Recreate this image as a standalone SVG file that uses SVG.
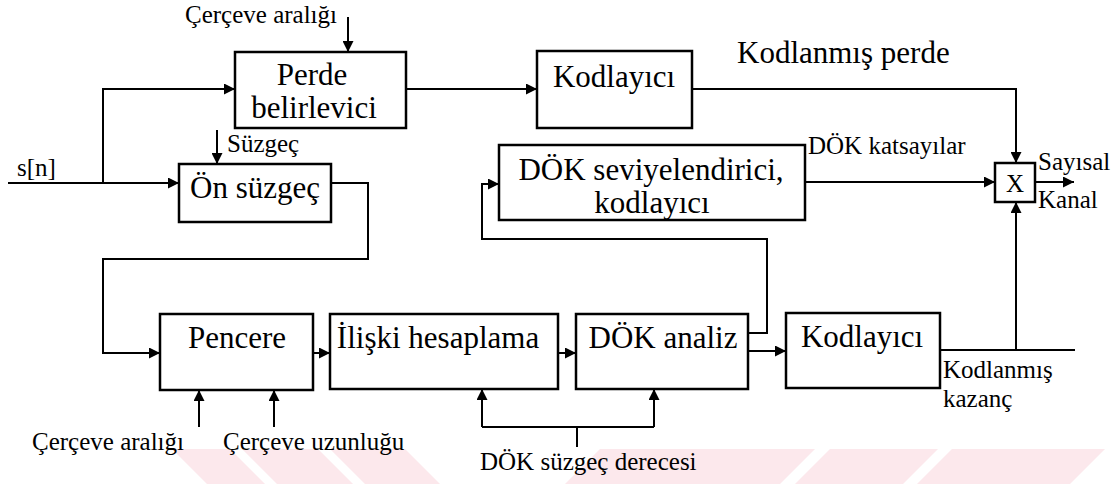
<svg xmlns="http://www.w3.org/2000/svg" width="1116" height="484" viewBox="0 0 1116 484">
  <style>
    .box { fill: none; stroke: #000; stroke-width: 2.5; }
    .wire { fill: none; stroke: #000; stroke-width: 2; }
    .arr { marker-end: url(#head); }
    .big { font-family: 'Liberation Serif', 'Times New Roman', 'DejaVu Serif', serif; font-size: 31px; fill: #000; }
    .lbl { font-family: 'Liberation Serif', 'Times New Roman', 'DejaVu Serif', serif; font-size: 25px; fill: #000; }
    .mid { text-anchor: middle; }
    .wm { fill: #fce8ec; }
  </style>
  <defs>
    <marker id="head" viewBox="0 0 10 10" markerWidth="11" markerHeight="11" refX="10" refY="5" orient="auto" markerUnits="userSpaceOnUse">
      <path d="M0,0 L10,5 L0,10 z" fill="#000"/>
    </marker>
  </defs>
  <rect width="1116" height="484" fill="#fff"/>

  <!-- faint background band along the bottom edge -->
  <g id="band">
    <polygon class="wm" points="172,449 230,449 265,484 207,484"/>
    <polygon class="wm" points="242,449 318,449 353,484 277,484"/>
    <polygon class="wm" points="330,449 405,449 440,484 365,484"/>
    <polygon class="wm" points="600,449 815,449 780,484 565,484"/>
    <polygon class="wm" points="830,449 938,449 903,484 795,484"/>
    <polygon class="wm" points="952,449 1105,449 1070,484 917,484"/>
  </g>

  <!-- connectors -->
  <g id="connectors">
    <!-- input s[n] -->
    <path class="wire arr" d="M8,183 H179"/>
    <path class="wire arr" d="M103,183 V89 H235"/>
    <!-- frame interval into pitch detector -->
    <path class="wire arr" d="M348,17 V52"/>
    <!-- filter into pre-filter -->
    <path class="wire arr" d="M217,130 V164"/>
    <!-- pitch detector to coder -->
    <path class="wire arr" d="M406,89 H537"/>
    <!-- coded pitch to multiplexer -->
    <path class="wire arr" d="M692,89 H1016 V163"/>
    <!-- LPC quantiser to multiplexer -->
    <path class="wire arr" d="M805,182 H995"/>
    <!-- multiplexer output -->
    <path class="wire arr" d="M1035,182 H1074"/>
    <!-- pre-filter to window -->
    <path class="wire arr" d="M331,183 H368 V259 H103 V353 H160"/>
    <!-- window to correlation -->
    <path class="wire arr" d="M313,353 H330"/>
    <!-- correlation to LPC analysis -->
    <path class="wire arr" d="M558,353 H576"/>
    <!-- LPC analysis to gain coder -->
    <path class="wire arr" d="M748,351 H786"/>
    <!-- LPC analysis to quantiser -->
    <path class="wire arr" d="M748,333 H767 V239 H482 V184 H499"/>
    <!-- coded gain -->
    <path class="wire" d="M940,350 H1075"/>
    <path class="wire arr" d="M1016,350 V202"/>
    <!-- window parameters -->
    <path class="wire arr" d="M199,427 V390"/>
    <path class="wire arr" d="M274,427 V390"/>
    <!-- LPC filter order -->
    <path class="wire arr" d="M482,427 V389"/>
    <path class="wire arr" d="M654,427 V389"/>
    <path class="wire" d="M482,427 H654"/>
    <path class="wire" d="M577,427 V447"/>
  </g>

  <!-- blocks -->
  <g id="perde-belirleyici">
    <rect class="box" x="235" y="52" width="171" height="76"/>
    <text class="big mid" x="312" y="85">Perde</text>
    <text class="big mid" x="314" y="118">belirlevici</text>
  </g>
  <g id="kodlayici-perde">
    <rect class="box" x="537" y="51" width="155" height="77"/>
    <text class="big mid" x="614" y="87">Kodlayıcı</text>
  </g>
  <g id="dok-seviyelendirici">
    <rect class="box" x="499" y="145" width="306" height="75"/>
    <text class="big mid" x="651" y="180">DÖK seviyelendirici,</text>
    <text class="big mid" x="652" y="213">kodlayıcı</text>
  </g>
  <g id="on-suzgec">
    <rect class="box" x="179" y="164" width="152" height="58"/>
    <text class="big mid" x="255" y="198">Ön süzgeç</text>
  </g>
  <g id="carpim">
    <rect class="box" x="995" y="163" width="40" height="39"/>
    <text class="lbl mid" x="1015" y="192">X</text>
  </g>
  <g id="pencere">
    <rect class="box" x="160" y="314" width="153" height="76"/>
    <text class="big mid" x="237" y="348">Pencere</text>
  </g>
  <g id="iliski-hesaplama">
    <rect class="box" x="330" y="314" width="228" height="75"/>
    <text class="big mid" x="438" y="348">İlişki hesaplama</text>
  </g>
  <g id="dok-analiz">
    <rect class="box" x="576" y="314" width="172" height="75"/>
    <text class="big mid" x="663" y="348">DÖK analiz</text>
  </g>
  <g id="kodlayici-kazanc">
    <rect class="box" x="786" y="313" width="154" height="75"/>
    <text class="big mid" x="862" y="347">Kodlayıcı</text>
  </g>

  <!-- signal labels -->
  <g id="labels">
    <text class="lbl" x="185" y="23">Çerçeve aralığı</text>
    <text class="lbl" x="17" y="176">s[n]</text>
    <text class="lbl" x="227" y="152">Süzgeç</text>
    <text class="big" x="737" y="63">Kodlanmış perde</text>
    <text class="lbl" x="808" y="154">DÖK katsayılar</text>
    <text class="lbl" x="1038" y="170">Sayısal</text>
    <text class="lbl" x="1038" y="208">Kanal</text>
    <text class="lbl" x="943" y="378">Kodlanmış</text>
    <text class="lbl" x="943" y="407">kazanç</text>
    <text class="lbl" x="32" y="450">Çerçeve aralığı</text>
    <text class="lbl" x="223" y="450">Çerçeve uzunluğu</text>
    <text class="lbl" x="480" y="470">DÖK süzgeç derecesi</text>
  </g>
</svg>
